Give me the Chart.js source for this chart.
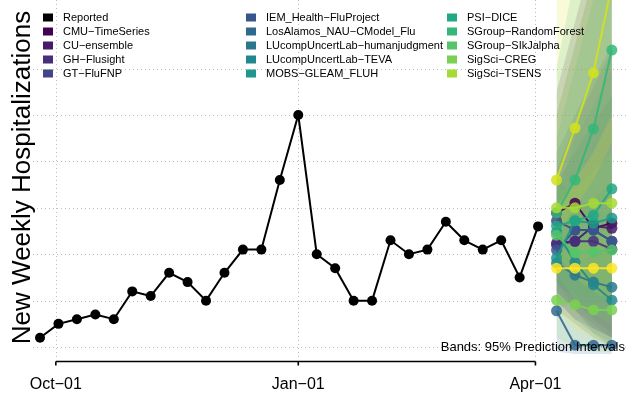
<!DOCTYPE html>
<html><head><meta charset="utf-8">
<script src="https://cdn.jsdelivr.net/npm/chart.js@4.4.1/dist/chart.umd.min.js"></script>
<style>html,body{margin:0;padding:0;background:#fff;}#wrap{width:629px;height:397px;position:relative;}</style>
</head><body><div id="wrap"><canvas id="c" width="629" height="397"></canvas></div>
<script>
// ---------------- DATA ----------------
const originDate = '2021-09-25';
const reportedDates = ['2021-09-25','2021-10-02','2021-10-09','2021-10-16','2021-10-23','2021-10-30','2021-11-06','2021-11-13','2021-11-20','2021-11-27','2021-12-04','2021-12-11','2021-12-18','2021-12-25','2022-01-01','2022-01-08','2022-01-15','2022-01-22','2022-01-29','2022-02-05','2022-02-12','2022-02-19','2022-02-26','2022-03-05','2022-03-12','2022-03-19','2022-03-26','2022-04-02'];
const reportedValues = [12,15,16,17,16,22,21,26,24,20,26,31,31,46,60,30,27,20,20,33,30,31,37,33,31,33,25,36];
const forecastDates = ['2022-04-09','2022-04-16','2022-04-23','2022-04-30'];
const modelNames = ['CMU−TimeSeries','CU−ensemble','GH−Flusight','GT−FluFNP','IEM_Health−FluProject','LosAlamos_NAU−CModel_Flu','LUcompUncertLab−humanjudgment','LUcompUncertLab−TEVA','MOBS−GLEAM_FLUH','PSI−DICE','SGroup−RandomForest','SGroup−SIkJalpha','SigSci−CREG','SigSci−TSENS','UMass−trends_ensemble','UVAFluX−Ensemble'];
const modelColors = ['#440154','#481A6C','#472F7D','#414487','#39568C','#31688E','#2A788E','#23888E','#1F988B','#22A884','#35B779','#54C568','#7AD151','#A5DB36','#D2E21B','#FDE725'];
const pointForecasts = [
  [38.9,41.0,35.6,36.7],
  [32.4,32.8,36.1,35.6],
  [32.0,32.8,32.8,31.1],
  [37.2,35.2,35.2,32.8],
  [30.9,35.2,35.2,32.8],
  [17.8,10.4,10.4,10.4],
  [28.1,25.5,24.0,22.9],
  [34.8,28.3,23.4,20.1],
  [29.2,37.2,36.7,37.8],
  [36.1,37.2,38.4,44.1],
  [38.9,46.0,57.0,74.0],
  [34.1,30.3,30.5,30.9],
  [20.1,19.1,18.0,18.0],
  [40.0,40.0,41.0,41.0],
  [46.0,57.2,69.1,88.0],
  [27.0,27.0,27.0,27.0]
];
const lower95 = [
  [22,18,14,12],
  [20,16,14,12],
  [22,18,15,12],
  [24,20,16,13],
  [18,15,12,10],
  [9,8.5,8.5,8.5],
  [20,16,13,11],
  [24,18,13,10],
  [18,20,18,17],
  [24,22,20,20],
  [28,30,34,40],
  [26,20,17,15],
  [12,10,9,9],
  [30,25,22,20],
  [34,40,46,54],
  [18,14,12,10]
];
const upper95 = [
  [65,80,95,110],
  [48,58,66,74],
  [45,52,58,64],
  [52,60,68,75],
  [60,75,90,100],
  [32,28,30,32],
  [38,40,42,45],
  [46,42,40,38],
  [42,55,62,70],
  [55,70,85,100],
  [70,90,110,130],
  [44,44,48,52],
  [30,32,34,36],
  [60,75,90,100],
  [95,110,130,150],
  [40,46,52,60]
];
const xTickDates = ['2021-10-01','2022-01-01','2022-04-01'];
const xTickLabels = ['Oct−01','Jan−01','Apr−01'];
const gridValues = [10,20,30,40,50,60,70];
const legendModelCount = 14;
const yTitle = 'New Weekly Hospitalizations';
const bandNote = 'Bands: 95% Prediction Intervals';

// ---------------- BUILD ----------------
const toDay = d => (Date.parse(d) - Date.parse(originDate)) / 86400000;
function hexA(hex, a){
  const n = parseInt(hex.slice(1),16);
  return `rgba(${(n>>16)&255},${(n>>8)&255},${n&255},${a})`;
}
const FONT = '"Liberation Sans", Arial, Helvetica, sans-serif';
const datasets = [];
modelNames.forEach((name,i)=>{
  datasets.push({label:name+' upper', data:forecastDates.map((d,j)=>({x:toDay(d),y:upper95[i][j]})),
    borderColor:'rgba(0,0,0,0)', borderWidth:0, pointRadius:0, fill:false, order:200-i, showLine:true});
  datasets.push({label:name+' lower', data:forecastDates.map((d,j)=>({x:toDay(d),y:lower95[i][j]})),
    borderColor:'rgba(0,0,0,0)', borderWidth:0, pointRadius:0, fill:'-1', backgroundColor:hexA(modelColors[i],0.16), order:200-i, showLine:true});
});
modelNames.forEach((name,i)=>{
  datasets.push({label:name, data:forecastDates.map((d,j)=>({x:toDay(d),y:pointForecasts[i][j]})),
    borderColor:hexA(modelColors[i],0.9), backgroundColor:hexA(modelColors[i],0.85), borderWidth:2,
    pointRadius:5.5, pointBorderWidth:0, fill:false, order:50-i, showLine:true});
});
datasets.push({label:'Reported', data:reportedDates.map((d,j)=>({x:toDay(d),y:reportedValues[j]})),
  borderColor:'#000', backgroundColor:'#000', borderWidth:2, pointRadius:5, pointBorderWidth:0, fill:false, order:0, showLine:true});

const gridPlugin = {
  id:'grid',
  beforeDatasetsDraw(chart){
    const {ctx, chartArea:a, scales:{x,y}} = chart;
    ctx.save();
    ctx.strokeStyle = '#bdbdbd'; ctx.lineWidth = 1; ctx.setLineDash([1,3]);
    gridValues.forEach(v=>{
      const py = Math.round(y.getPixelForValue(v))+0.5;
      ctx.beginPath(); ctx.moveTo(a.left,py); ctx.lineTo(a.right,py); ctx.stroke();
    });
    xTickDates.forEach(d=>{
      const px = Math.round(x.getPixelForValue(toDay(d)))+0.5;
      ctx.beginPath(); ctx.moveTo(px,a.top); ctx.lineTo(px,a.bottom-2); ctx.stroke();
    });
    ctx.restore();
  }
};
const decorPlugin = {
  id:'decor',
  afterDraw(chart){
    const {ctx, chartArea:a, scales:{x,y}} = chart;
    ctx.save();
    const x0 = x.getPixelForValue(toDay(xTickDates[0]));
    const x1 = x.getPixelForValue(toDay(xTickDates[xTickDates.length-1]));
    const ay = a.bottom + 0.5;
    ctx.strokeStyle = '#000'; ctx.lineWidth = 1.6; ctx.setLineDash([]);
    ctx.beginPath(); ctx.moveTo(x0,ay); ctx.lineTo(x1,ay); ctx.stroke();
    ctx.fillStyle = '#000'; ctx.font = '16px '+FONT; ctx.textAlign='center'; ctx.textBaseline='middle';
    xTickDates.forEach((d,i)=>{
      const px = x.getPixelForValue(toDay(d));
      ctx.beginPath(); ctx.moveTo(px,ay); ctx.lineTo(px,ay+4); ctx.stroke();
      ctx.fillText(xTickLabels[i], px, ay+23);
    });
    ctx.save();
    ctx.translate(30, (a.top+a.bottom)/2 - 3);
    ctx.rotate(-Math.PI/2);
    ctx.font = '26px '+FONT; ctx.textAlign='center'; ctx.textBaseline='alphabetic';
    ctx.fillText(yTitle, 0, 0);
    ctx.restore();
    ctx.font = '13px '+FONT; ctx.textAlign='right'; ctx.textBaseline='middle';
    ctx.fillText(bandNote, 625, 347);
    const entries = [{name:'Reported', color:'#000'}].concat(
      modelNames.slice(0,legendModelCount).map((n,i)=>({name:n,color:modelColors[i]})));
    const colX = [43, 246, 447];
    const rows = 5;
    ctx.font = '11px '+FONT; ctx.textAlign='left'; ctx.textBaseline='middle';
    entries.forEach((e,k)=>{
      const c = Math.floor(k/rows), r = k%rows;
      const cy = 17.5 + r*14;
      ctx.fillStyle = e.color;
      ctx.fillRect(colX[c], cy-4, 10, 8);
      ctx.fillStyle = '#000';
      ctx.fillText(e.name, colX[c]+20, cy);
    });
    ctx.restore();
  }
};

new Chart(document.getElementById('c'), {
  type:'line',
  data:{datasets},
  options:{
    responsive:false, animation:false, devicePixelRatio:1,
    layout:{autoPadding:false, padding:{left:33,right:0,top:0,bottom:36}},
    elements:{line:{tension:0}},
    scales:{
      x:{type:'linear', min:-2.66, max:223.5, display:false},
      y:{type:'linear', min:7, max:84.78, display:false}
    },
    plugins:{legend:{display:false}, tooltip:{enabled:false}}
  },
  plugins:[gridPlugin, decorPlugin]
});
</script></body></html>
